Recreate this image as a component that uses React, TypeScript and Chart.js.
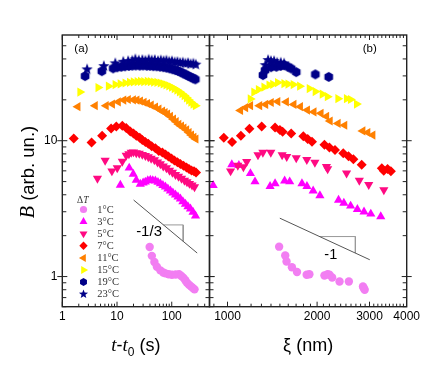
import React, { useEffect, useRef } from 'react';
import { Chart, registerables } from 'chart.js';
Chart.register(...registerables);

const W = 440;
const H = 382;

const seriesLabels = ['1°C', '3°C', '5°C', '7°C', '11°C', '15°C', '19°C', '23°C'];
const seriesColors = ['#F27EF2', '#FF00FF', '#FF0A82', '#FF0000', '#FF8000', '#FFFF00', '#000088', '#000088'];
const seriesShapes = ['circle', 'triangle', 'triangleDown', 'diamond', 'triangleLeft', 'triangleRight', 'hexagon', 'star'];

// ---- panel (a): B vs t - t0 (s)
const tA1 = [39.5, 43.3, 48.2, 53.5, 62, 70, 76.6, 88, 101, 118, 136, 150, 164, 177, 190, 207, 225, 243, 261];
const bA1 = [1.65, 1.42, 1.28, 1.18, 1.11, 1.07, 1.056, 1.04, 1.03, 1.035, 1.04, 1.01, 0.978, 0.94, 0.9, 0.87, 0.847, 0.825, 0.805];
const tA3 = [11.5, 16.7, 19.8, 22.5, 26.6, 30, 32.9, 36.5, 40.6, 45, 50.2, 56, 62, 69, 76.6, 85, 94.7, 105, 117, 130, 144, 160, 178, 198, 220, 245, 272];
const bA3 = [4.72, 6.3, 5.69, 5.14, 4.8, 4.9, 4.97, 5.08, 5.14, 5.1, 5.06, 4.95, 4.84, 4.7, 4.57, 4.42, 4.27, 4.13, 3.99, 3.86, 3.73, 3.57, 3.42, 3.28, 3.15, 2.98, 2.8];
const tA5 = [4.39, 6.07, 8.06, 10.1, 12.5, 14.7, 16.5, 18.2, 20, 22.5, 25.5, 29, 33, 37.3, 42, 48.2, 55, 62, 70, 80, 91, 103, 117, 133, 151, 171, 190, 211, 235, 261];
const bA5 = [5.27, 7.15, 5.98, 6.3, 7.03, 7.78, 8.0, 8.19, 8.25, 8.12, 8.05, 7.91, 7.75, 7.59, 7.4, 7.21, 6.95, 6.74, 6.5, 6.3, 6.05, 5.84, 5.62, 5.45, 5.28, 5.1, 4.97, 4.84, 4.7, 4.57];
const tA7 = [1.62, 3.43, 5.35, 7.8, 9.7, 12.5, 14.7, 17.5, 20, 22.5, 26, 29, 33, 37.3, 43, 50.2, 58, 67.5, 77, 87, 99, 112, 127, 144, 164, 186, 207, 230, 255, 278];
const bA7 = [10.4, 9.7, 10.9, 12.3, 12.7, 12.9, 12.4, 11.7, 11.3, 10.9, 10.5, 10.1, 9.8, 9.5, 9.1, 8.8, 8.4, 8.2, 7.9, 7.65, 7.4, 7.15, 6.95, 6.74, 6.55, 6.35, 6.2, 6.04, 5.95, 5.84];
const tA11 = [1.92, 3.98, 6.3, 8.2, 10.5, 13.2, 16, 19.8, 23, 26.6, 31, 35.8, 42, 50.2, 58, 67.5, 75, 83.3, 94, 107, 120, 134, 150, 166, 186, 206, 228, 252, 275];
const bA11 = [17.8, 18.1, 18.1, 18.6, 19.3, 19.9, 20.1, 20.0, 19.9, 19.6, 19.2, 18.8, 18.3, 17.7, 17.1, 16.5, 16.1, 15.7, 15.1, 14.4, 13.8, 13.2, 12.8, 12.4, 12.0, 11.5, 11.0, 10.6, 10.3];
const tA15 = [2.11, 4.52, 7.0, 9.3, 11.5, 14.1, 17, 20, 23.5, 27, 31, 36, 41, 47, 54, 62, 70, 79, 89, 100, 112, 125, 139, 154, 170, 187, 205, 225, 247, 272];
const bA15 = [22.8, 24.6, 25.2, 25.9, 26.2, 26.6, 26.9, 27.1, 27.2, 27.3, 27.2, 27.3, 27.2, 27.0, 26.9, 26.6, 26.2, 25.8, 25.3, 24.8, 24.2, 23.6, 22.9, 22.2, 21.5, 20.7, 19.9, 19.2, 18.6, 18.1];
const tA19 = [2.61, 5.28, 8.5, 10.1, 12, 14, 16.5, 19, 22, 26, 30, 35, 40, 46, 53, 61, 70, 80, 91, 103, 116, 130, 145, 162, 180, 200, 222, 246, 270];
const bA19 = [29.9, 32.5, 34.1, 34.7, 35.0, 35.3, 35.5, 35.7, 35.8, 35.7, 35.8, 35.6, 35.6, 35.4, 35.3, 35.1, 34.8, 34.5, 34.1, 33.6, 33.1, 32.6, 32.0, 31.3, 30.7, 30.0, 29.4, 28.8, 28.3];
const tA23 = [2.84, 5.75, 9.3, 13, 16, 19, 21.6, 25, 29, 33, 38, 43, 49, 56, 63, 71, 80, 90, 101, 113, 127, 142, 159, 178, 199, 222, 248, 275];
const bA23 = [33.5, 35.4, 37.1, 38.1, 38.5, 38.8, 39.7, 39.0, 39.3, 38.8, 39.5, 39.0, 39.3, 38.6, 39.0, 38.6, 38.9, 38.2, 38.4, 37.8, 38.0, 37.4, 37.6, 37.0, 37.3, 36.6, 36.9, 36.3];

// ---- panel (b): B vs xi (nm)
const xB1 = [1491, 1563, 1579, 1646, 1712, 1845, 1884, 2117, 2170, 2201, 2247, 2379, 2557, 2852, 2870, 2890];
const bB1 = [1.66, 1.43, 1.29, 1.17, 1.08, 1.03, 1.04, 1.017, 1.04, 1.03, 0.983, 0.919, 0.919, 0.845, 0.82, 0.8];
const xB3 = [895, 1034, 1092, 1194, 1237, 1390, 1445, 1556, 1618, 1779, 1849, 1940, 2044, 2361, 2460, 2592, 2731, 2875, 3030, 3273];
const bB3 = [4.69, 6.68, 6.6, 5.74, 4.99, 4.62, 4.83, 5.07, 4.99, 4.84, 4.62, 4.28, 3.95, 3.65, 3.47, 3.31, 3.13, 3.0, 2.89, 2.76];
const xB5 = [1024, 1083, 1131, 1160, 1266, 1315, 1398, 1526, 1581, 1702, 1847, 1966, 2150, 2170, 2512, 2773, 2982, 3352];
const bB5 = [5.98, 6.57, 6.41, 7.01, 7.85, 8.19, 8.19, 7.85, 7.63, 7.48, 7.25, 6.92, 6.45, 6.2, 5.76, 5.1, 4.75, 4.34];
const xB7 = [972, 1036, 1109, 1185, 1303, 1445, 1500, 1532, 1637, 1798, 1860, 1923, 2117, 2200, 2297, 2449, 2550, 2648, 2824, 3299, 3350, 3450, 3539];
const bB7 = [10.5, 9.78, 10.9, 12.25, 12.7, 12.5, 12.0, 11.65, 11.3, 10.8, 10.3, 9.83, 9.35, 8.9, 8.54, 8.08, 7.7, 7.3, 6.66, 6.27, 6.0, 6.2, 5.96];
const xB11 = [1105, 1149, 1194, 1281, 1342, 1401, 1474, 1575, 1670, 1756, 1854, 1950, 2060, 2150, 2210, 2351, 2474, 2846, 2958, 3076];
const bB11 = [16.7, 17.5, 18.1, 18.1, 18.5, 19.1, 19.4, 19.3, 18.5, 17.8, 16.8, 16.3, 15.9, 15.1, 13.96, 13.4, 13.0, 11.8, 11.5, 11.0];
const xB15 = [1194, 1227, 1271, 1327, 1380, 1420, 1474, 1549, 1599, 1664, 1749, 1884, 1973, 2084, 2167, 2351, 2512, 2592, 2716];
const bB15 = [20.3, 22.8, 23.8, 24.8, 25.7, 26.0, 26.8, 26.3, 26.1, 25.9, 25.2, 24.2, 23.0, 22.0, 21.1, 20.4, 20.4, 20.1, 18.6];
const xB19 = [1316, 1337, 1401, 1460, 1509, 1549, 1593, 1637, 1702, 1973, 2188];
const bB19 = [30.4, 33.0, 34.8, 35.0, 35.5, 36.0, 35.1, 34.0, 32.0, 30.8, 29.5];
const xB23 = [1340, 1369, 1400, 1434, 1468, 1510, 1549];
const bB23 = [36.0, 39.2, 38.5, 38.5, 37.5, 37.5, 37.0];

// ---- slope guides
const slopeAt = [20.1, 292];
const slopeAb = [3.66, 1.49];
const triAt = [70.4, 162, 162];
const triAb = [2.4, 2.4, 1.82];
const slopeAText = { x: 38.5, y: 2.14, text: '-1/3' };
const slopeBx = [1499, 3006];
const slopeBb = [2.69, 1.33];
const triBx = [2038, 2689, 2689];
const triBb = [1.97, 1.97, 1.49];
const slopeBText = { x: 2223, y: 1.44, text: '-1' };

// ---- ticks
const xLabelsA = [1, 10, 100];
const xMinorA = [2, 3, 4, 5, 6, 7, 8, 9, 20, 30, 40, 50, 60, 70, 80, 90, 200, 300, 400];
const yLabels = [1, 10];
const yMinor = [0.6, 0.7, 0.8, 0.9, 2, 3, 4, 5, 6, 7, 8, 9, 20, 30, 40, 50];
const xLabelsB = [1000, 2000, 3000, 4000];
const xMinorB = [900, 1100, 1200, 1300, 1400, 1500, 1600, 1700, 1800, 1900, 2100, 2200, 2300, 2400, 2500, 2600, 2700, 2800, 2900, 3100, 3200, 3300, 3400, 3500, 3600, 3700, 3800, 3900];

const SANS = "'Liberation Sans', Arial, sans-serif";
const SERIF = "'Liberation Serif', 'Times New Roman', serif";

const pts = (xs: number[], ys: number[]) => xs.map((x, i) => ({ x, y: ys[i] }));

function shapePath(ctx: CanvasRenderingContext2D, shape: string, x: number, y: number, r: number) {
  const poly = (n: number, rad: number, rotDeg: number) => {
    for (let i = 0; i < n; i++) {
      const a = ((rotDeg + (i * 360) / n) * Math.PI) / 180;
      const px = x + Math.sin(a) * rad;
      const py = y - Math.cos(a) * rad;
      if (i === 0) ctx.moveTo(px, py);
      else ctx.lineTo(px, py);
    }
    ctx.closePath();
  };
  ctx.beginPath();
  switch (shape) {
    case 'circle':
      ctx.arc(x, y, r, 0, Math.PI * 2);
      break;
    case 'triangle':
      poly(3, r, 0);
      break;
    case 'triangleDown':
      poly(3, r, 180);
      break;
    case 'triangleLeft':
      poly(3, r, 270);
      break;
    case 'triangleRight':
      poly(3, r, 90);
      break;
    case 'diamond':
      poly(4, r, 0);
      break;
    case 'hexagon':
      poly(6, r, 0);
      break;
    case 'star': {
      for (let i = 0; i < 10; i++) {
        const a = (i * 36 * Math.PI) / 180;
        const rr = i % 2 === 0 ? r : r * 0.42;
        const px = x + Math.sin(a) * rr;
        const py = y - Math.cos(a) * rr;
        if (i === 0) ctx.moveTo(px, py);
        else ctx.lineTo(px, py);
      }
      ctx.closePath();
      break;
    }
  }
}

function markerCanvas(shape: string, r: number, color: string) {
  const c = document.createElement('canvas');
  const s = Math.ceil(r * 2 + 2);
  c.width = s;
  c.height = s;
  const ctx = c.getContext('2d')!;
  ctx.fillStyle = color;
  shapePath(ctx, shape, s / 2, s / 2, r);
  ctx.fill();
  return c;
}

function drawRuns(ctx: CanvasRenderingContext2D, runs: { t: string; f: string; dy?: number }[], cx: number, y: number) {
  let total = 0;
  const widths = runs.map((r) => {
    ctx.font = r.f;
    const w = ctx.measureText(r.t).width;
    total += w;
    return w;
  });
  let x = cx - total / 2;
  ctx.textAlign = 'left';
  runs.forEach((r, i) => {
    ctx.font = r.f;
    ctx.fillText(r.t, x, y + (r.dy || 0));
    x += widths[i];
  });
}

function seriesDataset(i: number, data: { x: number; y: number }[], imgs: Record<string, HTMLCanvasElement>) {
  const shape = seriesShapes[i];
  const color = seriesColors[i];
  let pointStyle: any = 'triangle';
  let rot = 0;
  let r = 5.3;
  switch (shape) {
    case 'circle':
      pointStyle = 'circle';
      r = 4.2;
      break;
    case 'triangleDown':
      rot = 180;
      break;
    case 'triangleLeft':
      rot = 270;
      break;
    case 'triangleRight':
      rot = 90;
      break;
    case 'diamond':
      pointStyle = 'rectRot';
      r = 5;
      break;
    case 'hexagon':
      pointStyle = imgs.hex;
      r = 5;
      break;
    case 'star':
      pointStyle = imgs.star;
      r = 5;
      break;
  }
  return {
    label: seriesLabels[i],
    data,
    showLine: false,
    pointStyle,
    pointRotation: rot,
    pointRadius: r,
    pointBackgroundColor: color,
    pointBorderColor: color,
    pointBorderWidth: 0,
    backgroundColor: color,
    borderColor: color,
    order: 7 - i,
  };
}

function guideDataset(xs: number[], ys: number[], color: string) {
  return {
    label: 'guide',
    data: pts(xs, ys),
    showLine: true,
    borderColor: color,
    borderWidth: 1,
    pointRadius: 0,
    fill: false,
    order: 20,
  };
}

function framePlugin(xMaj: number[], xMin: number[], extra: (ctx: CanvasRenderingContext2D, chart: any) => void) {
  return {
    id: 'frameTicks',
    afterDraw(chart: any) {
      const ctx: CanvasRenderingContext2D = chart.ctx;
      const { left, right, top, bottom } = chart.chartArea;
      const xs = chart.scales.x;
      const ys = chart.scales.y;
      ctx.save();
      ctx.strokeStyle = '#222';
      ctx.lineWidth = 1;
      ctx.beginPath();
      const vx = (v: number, len: number) => {
        const p = xs.getPixelForValue(v);
        ctx.moveTo(p, bottom);
        ctx.lineTo(p, bottom - len);
        ctx.moveTo(p, top);
        ctx.lineTo(p, top + len);
      };
      xMaj.forEach((v) => vx(v, 5));
      xMin.forEach((v) => vx(v, 3));
      const vy = (v: number, inLen: number, outLen: number) => {
        const p = ys.getPixelForValue(v);
        ctx.moveTo(left - outLen, p);
        ctx.lineTo(left + inLen, p);
        ctx.moveTo(right + outLen, p);
        ctx.lineTo(right - inLen, p);
      };
      yLabels.forEach((v) => vy(v, 5, 5));
      yMinor.forEach((v) => vy(v, 4, 0));
      ctx.stroke();
      ctx.lineWidth = 1.4;
      ctx.strokeRect(left, top, right - left, bottom - top);
      ctx.fillStyle = '#000';
      ctx.textBaseline = 'alphabetic';
      extra(ctx, chart);
      ctx.restore();
    },
  };
}

const baseScale = (min: number, max: number, labels: number[], display: boolean, size: { w?: number; h?: number }) => ({
  type: 'logarithmic' as const,
  min,
  max,
  display,
  afterBuildTicks: (scale: any) => {
    scale.ticks = labels.map((v) => ({ value: v }));
  },
  afterFit: (scale: any) => {
    if (size.w !== undefined) scale.width = size.w;
    if (size.h !== undefined) scale.height = size.h;
  },
  grid: { display: false, drawTicks: false, tickLength: 0 },
  border: { display: false },
  ticks: {
    autoSkip: false,
    maxRotation: 0,
    minRotation: 0,
    padding: 3,
    color: '#000',
    font: { family: SANS, size: 12 },
    callback: (v: any) => String(v),
  },
});

export default function App() {
  const refA = useRef<HTMLCanvasElement>(null);
  const refB = useRef<HTMLCanvasElement>(null);

  useEffect(() => {
    const imgs = {
      hex: markerCanvas('hexagon', 5, '#000088'),
      star: markerCanvas('star', 6, '#000088'),
    };
    const dataA = [pts(tA1, bA1), pts(tA3, bA3), pts(tA5, bA5), pts(tA7, bA7), pts(tA11, bA11), pts(tA15, bA15), pts(tA19, bA19), pts(tA23, bA23)];
    const dataB = [pts(xB1, bB1), pts(xB3, bB3), pts(xB5, bB5), pts(xB7, bB7), pts(xB11, bB11), pts(xB15, bB15), pts(xB19, bB19), pts(xB23, bB23)];

    const extraA = (ctx: CanvasRenderingContext2D, chart: any) => {
      const { left, right, top } = chart.chartArea;
      const xs = chart.scales.x;
      const ys = chart.scales.y;
      // panel tag
      ctx.font = `11.5px ${SANS}`;
      ctx.textAlign = 'left';
      ctx.textBaseline = 'middle';
      ctx.fillText('(a)', left + 12, top + 13.5);
      // slope text
      ctx.font = `15px ${SANS}`;
      ctx.textAlign = 'center';
      ctx.fillText(slopeAText.text, xs.getPixelForValue(slopeAText.x), ys.getPixelForValue(slopeAText.y));
      // legend
      ctx.fillStyle = '#333';
      ctx.textBaseline = 'middle';
      drawRuns(ctx, [
        { t: 'Δ', f: `9.5px ${SERIF}` },
        { t: 'T', f: `italic 9.5px ${SERIF}` },
      ], left + 20.5, top + 165.5);
      seriesLabels.forEach((lab, i) => {
        const y = top + 174.5 + i * 12.1;
        const shape = seriesShapes[i];
        const r = shape === 'circle' ? 3.6 : shape === 'star' ? 4.8 : shape === 'diamond' ? 4.2 : shape === 'hexagon' ? 4 : 4.6;
        ctx.fillStyle = seriesColors[i];
        shapePath(ctx, shape, left + 21.2, y, r);
        ctx.fill();
        ctx.fillStyle = '#333';
        ctx.font = `10.5px ${SERIF}`;
        ctx.textAlign = 'left';
        ctx.fillText(lab, left + 35, y + 0.5);
      });
      // x title
      ctx.fillStyle = '#000';
      ctx.textBaseline = 'alphabetic';
      drawRuns(ctx, [
        { t: 't', f: `italic 19px ${SERIF}` },
        { t: '-', f: `18px ${SANS}` },
        { t: 't', f: `italic 19px ${SERIF}` },
        { t: '0', f: `12px ${SANS}`, dy: 5 },
        { t: ' (s)', f: `18px ${SANS}` },
      ], (left + right) / 2, 351);
      // y title
      ctx.save();
      ctx.translate(33.5, 172);
      ctx.rotate(-Math.PI / 2);
      drawRuns(ctx, [
        { t: 'B', f: `italic 20px ${SERIF}` },
        { t: ' (arb. un.)', f: `18.5px ${SANS}` },
      ], 0, 0);
      ctx.restore();
    };

    const extraB = (ctx: CanvasRenderingContext2D, chart: any) => {
      const { left, right, top } = chart.chartArea;
      const xs = chart.scales.x;
      const ys = chart.scales.y;
      ctx.font = `11.5px ${SANS}`;
      ctx.textAlign = 'center';
      ctx.textBaseline = 'middle';
      ctx.fillText('(b)', right - 37, top + 13.5);
      ctx.font = `14.5px ${SANS}`;
      ctx.fillText(slopeBText.text, xs.getPixelForValue(slopeBText.x), ys.getPixelForValue(slopeBText.y));
      ctx.textBaseline = 'alphabetic';
      drawRuns(ctx, [{ t: 'ξ (nm)', f: `18px ${SANS}` }], (left + right) / 2, 351);
    };

    const commonOpts = (padding: any) => ({
      responsive: false,
      animation: false as const,
      events: [] as any[],
      layout: { padding },
      plugins: { legend: { display: false }, tooltip: { enabled: false } },
    });

    const chartA = new Chart(refA.current!, {
      type: 'scatter',
      data: {
        datasets: [
          ...dataA.map((d, i) => seriesDataset(i, d, imgs)),
          guideDataset(slopeAt, slopeAb, '#555'),
          guideDataset(triAt, triAb, '#999'),
        ] as any,
      },
      options: {
        ...commonOpts({ left: 0, top: 35, right: W - 209.5, bottom: 0 }),
        scales: {
          x: baseScale(1, 490, xLabelsA, true, { h: 75.3 }),
          y: { ...baseScale(0.6, 60, yLabels, true, { w: 62.3 }), ticks: { ...baseScale(0.6, 60, yLabels, true, {}).ticks, padding: 5 } },
        } as any,
      },
      plugins: [framePlugin(xLabelsA, xMinorA, extraA)],
    } as any);

    const chartB = new Chart(refB.current!, {
      type: 'scatter',
      data: {
        datasets: [
          ...dataB.map((d, i) => seriesDataset(i, d, imgs)),
          guideDataset(slopeBx, slopeBb, '#555'),
          guideDataset(triBx, triBb, '#999'),
        ] as any,
      },
      options: {
        ...commonOpts({ left: 209.5, top: 35, right: W - 406.7, bottom: 0 }),
        scales: {
          x: baseScale(870, 4000, xLabelsB, true, { h: 75.3 }),
          y: baseScale(0.6, 60, yLabels, false, {}),
        } as any,
      },
      plugins: [framePlugin(xLabelsB.slice(0, 3), xMinorB, extraB)],
    } as any);

    return () => {
      chartA.destroy();
      chartB.destroy();
    };
  }, []);

  return (
    <div style={{ position: 'absolute', left: 0, top: 0, width: W, height: H, background: '#fff' }}>
      <canvas ref={refA} width={W} height={H} style={{ position: 'absolute', left: 0, top: 0 }} />
      <canvas ref={refB} width={W} height={H} style={{ position: 'absolute', left: 0, top: 0 }} />
    </div>
  );
}
